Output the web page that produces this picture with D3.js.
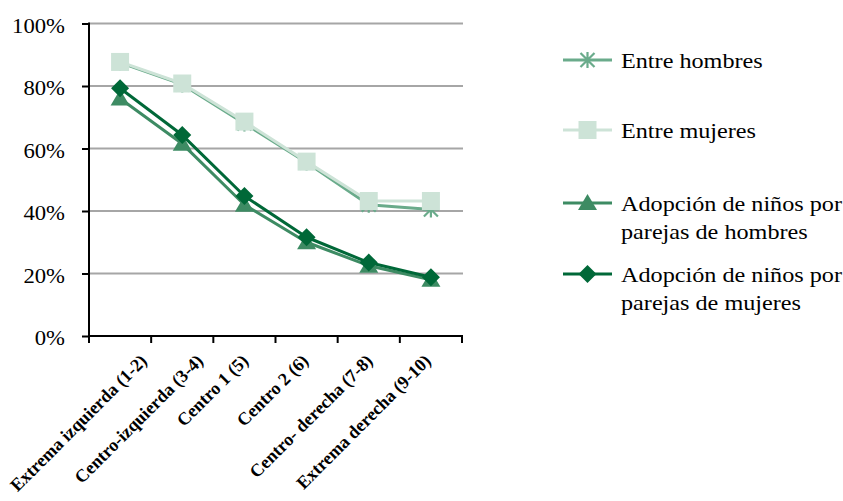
<!DOCTYPE html>
<html>
<head>
<meta charset="utf-8">
<script src="https://cdn.jsdelivr.net/npm/d3@7"></script>
<style>
  html, body { margin: 0; padding: 0; background: #fff; }
  svg { display: block; }
  text { font-family: "Liberation Serif", "Times New Roman", serif; }
</style>
</head>
<body>
<svg id="chart" width="843" height="501"></svg>
<script>
const categories = ["Extrema izquierda (1-2)", "Centro-izquierda (3-4)", "Centro 1 (5)", "Centro 2 (6)", "Centro- derecha (7-8)", "Extrema derecha (9-10)"];
const entreHombres = [87.5, 80.5, 68.0, 55.5, 42.0, 40.5];
const entreMujeres = [87.7, 80.8, 68.6, 55.8, 43.2, 43.2];
const adopcionHombres = [76.0, 61.5, 42.0, 30.0, 22.5, 18.0];
const adopcionMujeres = [79.3, 64.3, 44.8, 31.6, 23.5, 18.8];
const yTicks = [0, 20, 40, 60, 80, 100];
const seriesNames = ["Entre hombres", "Entre mujeres", "Adopción de niños por parejas de hombres", "Adopción de niños por parejas de mujeres"];

const series = [
  { name: seriesNames[0], values: entreHombres, color: "#6aab8b", marker: "asterisk", legendLines: ["Entre hombres"] },
  { name: seriesNames[1], values: entreMujeres, color: "#cde3d7", marker: "square", legendLines: ["Entre mujeres"] },
  { name: seriesNames[2], values: adopcionHombres, color: "#3d8b63", marker: "triangle", legendLines: ["Adopción de niños por", "parejas de hombres"] },
  { name: seriesNames[3], values: adopcionMujeres, color: "#006838", marker: "diamond", legendLines: ["Adopción de niños por", "parejas de mujeres"] }
];

const svg = d3.select("#chart");
const pLeft = 89, pRight = 462, pTop = 23.5, pBottom = 336;
const FONT = "'Liberation Serif', 'Times New Roman', serif";

const x = d3.scaleBand().domain(categories).range([pLeft, pRight]);
const y = d3.scaleLinear().domain([0, 100]).range([pBottom, pTop]);
const cx = c => x(c) + x.bandwidth() / 2;

// gridlines
svg.append("g").selectAll("line").data(yTicks.filter(d => d > 0)).join("line")
  .attr("x1", pLeft).attr("x2", pRight + 1)
  .attr("y1", d => y(d)).attr("y2", d => y(d))
  .attr("stroke", "#a6a6a6").attr("stroke-width", 2);

// y axis
const yAxis = svg.append("g").attr("transform", `translate(${pLeft},0)`)
  .call(d3.axisLeft(y).tickValues(yTicks).tickFormat(d => d + "%").tickSize(7).tickPadding(16));
yAxis.attr("font-family", FONT);
yAxis.select(".domain").attr("stroke", "#000").attr("stroke-width", 2).attr("d", `M0,${pTop - 1}V${pBottom + 1}`);
yAxis.selectAll(".tick line").attr("stroke", "#000").attr("stroke-width", 2);
yAxis.selectAll(".tick text").attr("font-size", 21).attr("fill", "#000")
  .attr("x", 0).attr("dy", "0.42em").attr("transform", "translate(-24,0) scale(1.08,1)");

// x axis
const xAxisG = svg.append("g").attr("transform", `translate(0,${pBottom})`);
xAxisG.append("line").attr("x1", pLeft - 1).attr("x2", pRight + 1).attr("y1", 0).attr("y2", 0)
  .attr("stroke", "#000").attr("stroke-width", 2);
const edges = categories.map(c => x(c)).concat([x(categories[categories.length - 1]) + x.bandwidth()]);
xAxisG.selectAll("line.tk").data(edges).join("line").attr("class", "tk")
  .attr("x1", d => d).attr("x2", d => d).attr("y1", 0).attr("y2", 7)
  .attr("stroke", "#000").attr("stroke-width", 2);
const labelShift = [28, 22, 5, 3, 5, 1];
xAxisG.selectAll("text.xl").data(categories).join("text").attr("class", "xl")
  .attr("transform", (d, i) => `translate(${cx(d) + labelShift[i]},${26}) rotate(-45)`)
  .attr("text-anchor", "end")
  .attr("font-size", 18).attr("font-weight", "bold").attr("fill", "#000")
  .text(d => d);

// marker drawing
function drawMarker(g, type, color, px, py) {
  if (type === "square") {
    g.append("rect").attr("x", px - 9).attr("y", py - 9).attr("width", 18).attr("height", 18).attr("fill", color);
  } else if (type === "triangle") {
    g.append("path").attr("d", `M${px},${py - 9}L${px + 9.5},${py + 7}L${px - 9.5},${py + 7}Z`).attr("fill", color);
  } else if (type === "diamond") {
    g.append("path").attr("d", `M${px},${py - 9}L${px + 9},${py}L${px},${py + 9}L${px - 9},${py}Z`).attr("fill", color);
  } else if (type === "asterisk") {
    const r = 7;
    const p = `M${px - r},${py - r}L${px + r},${py + r}M${px + r},${py - r}L${px - r},${py + r}M${px},${py - r - 1}L${px},${py + r + 1}M${px - r - 1},${py}L${px + r + 1},${py}`;
    g.append("path").attr("d", p).attr("stroke", color).attr("stroke-width", 2.2).attr("fill", "none");
  }
}

const line = d3.line().x((d, i) => cx(categories[i])).y(d => y(d));

series.forEach(s => {
  const g = svg.append("g");
  g.append("path").datum(s.values).attr("d", line).attr("fill", "none")
    .attr("stroke", s.color).attr("stroke-width", 3).attr("stroke-linejoin", "round");
  s.values.forEach((v, i) => drawMarker(g, s.marker, s.color, cx(categories[i]), y(v)));
});

// legend
const legendY = [60, 130, 203, 274];
const lg = svg.append("g");
series.forEach((s, i) => {
  const ly = legendY[i];
  lg.append("line").attr("x1", 563).attr("x2", 612).attr("y1", ly).attr("y2", ly)
    .attr("stroke", s.color).attr("stroke-width", 3);
  drawMarker(lg, s.marker, s.color, 587.5, ly);
  s.legendLines.forEach((t, j) => {
    lg.append("text").attr("transform", `translate(621,${ly + 8 + j * 28}) scale(1.1,1)`)
      .attr("font-size", 22).attr("fill", "#000").text(t);
  });
});
</script>
</body>
</html>
